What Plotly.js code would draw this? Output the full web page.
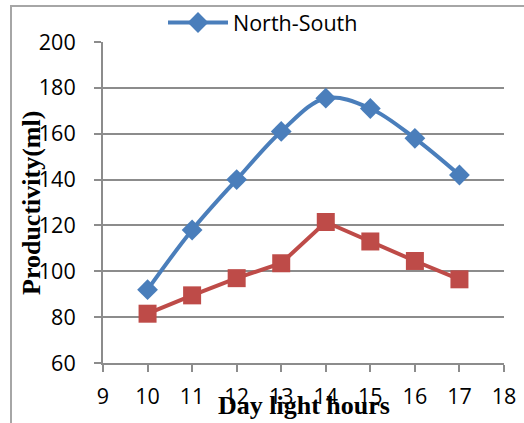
<!DOCTYPE html>
<html>
<head>
<meta charset="utf-8">
<script src="https://cdn.plot.ly/plotly-3.0.1.min.js"></script>
<style>
  html, body { margin: 0; padding: 0; background: #fff; }
  #chart { width: 524px; height: 423px; }
</style>
</head>
<body>
<div id="chart"></div>
<script>
const hours = [10, 11, 12, 13, 14, 15, 16, 17];
const northSouth = [92, 118, 140, 161, 175.5, 171, 158, 142];
const secondSeries = [81.5, 89.5, 97, 103.5, 121.5, 113, 104.5, 96.5];
const seriesNames = ['North-South', 'East-West'];
const xTicks = [9, 10, 11, 12, 13, 14, 15, 16, 17, 18];
const yTicks = [60, 80, 100, 120, 140, 160, 180, 200];
const xTitle = 'Day light hours';
const yTitle = 'Productivity(ml)';

const W = 524, H = 423;
const M = { l: 103, r: 20, t: 42, b: 60, autoexpand: false };
const pw = W - M.l - M.r, ph = H - M.t - M.b;
const px = v => (v - M.l) / pw;
const py = v => (H - M.b - v) / ph;

const blue = '#4A7EBB';
const red = '#BE4B48';
const gridCol = '#8C8C8C';
const tickFont = { family: '"Open Sans", sans-serif', size: 21.5, color: '#000' };
const titleFont = { family: '"Liberation Serif", "Times New Roman", serif', size: 26, color: '#000' };

const traces = [
  {
    x: hours, y: northSouth, name: seriesNames[0], type: 'scatter', mode: 'lines+markers',
    line: { color: blue, width: 4, shape: 'spline', smoothing: 1 },
    marker: { symbol: 'diamond', size: 16, color: blue, line: { width: 0 } },
    showlegend: true
  },
  {
    x: hours, y: secondSeries, name: seriesNames[1], type: 'scatter', mode: 'lines+markers',
    line: { color: red, width: 4 },
    marker: { symbol: 'square', size: 18, color: red, line: { width: 0 } },
    showlegend: false
  }
];

const layout = {
  width: W, height: H,
  margin: M,
  paper_bgcolor: '#fff', plot_bgcolor: '#fff',
  showlegend: true,
  legend: {
    orientation: 'h', x: px(163), xanchor: 'left', y: py(2), yanchor: 'top',
    font: tickFont, bgcolor: 'rgba(0,0,0,0)', itemwidth: 60
  },
  xaxis: {
    range: [9, 18], tickvals: xTicks, ticktext: xTicks.map(String),
    showgrid: false, zeroline: false,
    showline: true, linecolor: gridCol, linewidth: 2,
    ticks: 'outside', ticklen: 7, tickwidth: 2, tickcolor: gridCol,
    tickfont: tickFont, ticklabelstandoff: 6,
    fixedrange: true
  },
  yaxis: {
    range: [60, 200], tickvals: yTicks, ticktext: yTicks.map(String),
    showgrid: true, gridcolor: gridCol, gridwidth: 2, zeroline: false,
    showline: true, linecolor: gridCol, linewidth: 2,
    ticks: 'outside', ticklen: 7, tickwidth: 2, tickcolor: gridCol,
    tickfont: tickFont, ticklabelstandoff: 14,
    fixedrange: true
  },
  annotations: [
    { text: '<b>' + xTitle + '</b>', xref: 'paper', yref: 'paper', x: px(303.5), y: py(406),
      xanchor: 'center', yanchor: 'middle', showarrow: false, font: titleFont },
    { text: '<b>' + yTitle + '</b>', xref: 'paper', yref: 'paper', x: px(32), y: py(203),
      xanchor: 'center', yanchor: 'middle', textangle: -90, showarrow: false, font: titleFont }
  ],
  shapes: [
    { type: 'line', xref: 'paper', yref: 'paper', x0: px(11), x1: px(11), y0: py(6), y1: py(425),
      line: { color: '#A6A6A6', width: 2 } },
    { type: 'line', xref: 'paper', yref: 'paper', x0: px(10), x1: px(526), y0: py(6), y1: py(6),
      line: { color: '#A6A6A6', width: 2 } }
  ]
};

Plotly.newPlot('chart', traces, layout, { displayModeBar: false, staticPlot: true });
</script>
</body>
</html>
